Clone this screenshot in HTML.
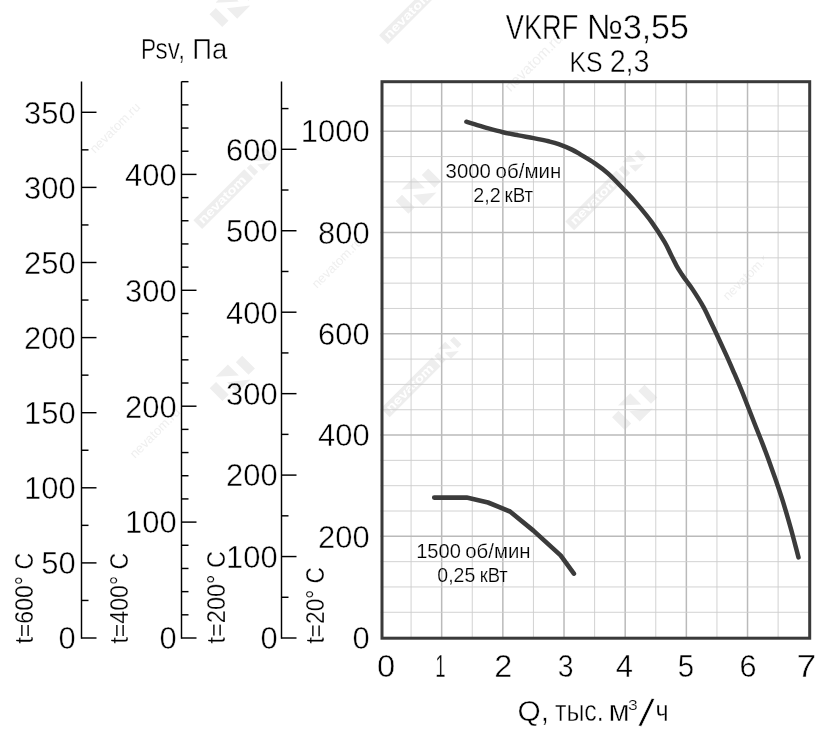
<!DOCTYPE html>
<html lang="ru"><head><meta charset="utf-8"><title>VKRF №3,55 KS 2,3</title>
<style>html,body{margin:0;padding:0;background:#fff}svg{display:block;will-change:transform}</style></head>
<body>
<svg width="838" height="738" viewBox="0 0 838 738">
<rect width="838" height="738" fill="#ffffff"/>
<clipPath id="cw"><rect x="382" y="0" width="382" height="738"/></clipPath>
<g transform="translate(223.2,199.2) rotate(-45)"><rect x="-36" y="-6.2" width="72" height="12.4" fill="#eeeeee"/><text x="-32" y="3.6" font-family='"Liberation Sans", sans-serif' font-weight="bold" font-size="12" textLength="62" lengthAdjust="spacingAndGlyphs" fill="#ffffff">nevatom</text><g transform="translate(52.5,0) scale(0.6)" fill="#eeeeee"><rect x="-23" y="-9" width="9" height="18"/><rect x="14" y="-9" width="9" height="18"/><path d="M-10.6,-13 L6.7,-13 L6.7,2.7 Z"/><path d="M-6.5,-1 L-6.5,13.7 L12,13.7 Z"/></g></g>
<g transform="translate(595.2,200.4) rotate(-45)"><rect x="-36" y="-6.2" width="72" height="12.4" fill="#eeeeee"/><text x="-32" y="3.6" font-family='"Liberation Sans", sans-serif' font-weight="bold" font-size="12" textLength="62" lengthAdjust="spacingAndGlyphs" fill="#ffffff">nevatom</text><g transform="translate(52.5,0) scale(0.6)" fill="#eeeeee"><rect x="-23" y="-9" width="9" height="18"/><rect x="14" y="-9" width="9" height="18"/><path d="M-10.6,-13 L6.7,-13 L6.7,2.7 Z"/><path d="M-6.5,-1 L-6.5,13.7 L12,13.7 Z"/></g></g>
<g clip-path="url(#cw)">
<g transform="translate(410.8,387.3) rotate(-45)"><rect x="-36" y="-6.2" width="72" height="12.4" fill="#eeeeee"/><text x="-32" y="3.6" font-family='"Liberation Sans", sans-serif' font-weight="bold" font-size="12" textLength="62" lengthAdjust="spacingAndGlyphs" fill="#ffffff">nevatom</text><g transform="translate(52.5,0) scale(0.6)" fill="#eeeeee"><rect x="-23" y="-9" width="9" height="18"/><rect x="14" y="-9" width="9" height="18"/><path d="M-10.6,-13 L6.7,-13 L6.7,2.7 Z"/><path d="M-6.5,-1 L-6.5,13.7 L12,13.7 Z"/></g></g>
</g>
<g transform="translate(408.9,14.3) rotate(-45)"><rect x="-36" y="-6.2" width="72" height="12.4" fill="#eeeeee"/><text x="-32" y="3.6" font-family='"Liberation Sans", sans-serif' font-weight="bold" font-size="12" textLength="62" lengthAdjust="spacingAndGlyphs" fill="#ffffff">nevatom</text><g transform="translate(52.5,0) scale(0.6)" fill="#eeeeee"><rect x="-23" y="-9" width="9" height="18"/><rect x="14" y="-9" width="9" height="18"/><path d="M-10.6,-13 L6.7,-13 L6.7,2.7 Z"/><path d="M-6.5,-1 L-6.5,13.7 L12,13.7 Z"/></g></g>
<g transform="translate(418.3,191.2) rotate(-45) scale(1.0)" fill="#eeeeee"><rect x="-23" y="-9" width="9" height="18"/><rect x="14" y="-9" width="9" height="18"/><path d="M-10.6,-13 L6.7,-13 L6.7,2.7 Z"/><path d="M-6.5,-1 L-6.5,13.7 L12,13.7 Z"/></g>
<g transform="translate(232.3,378.4) rotate(-45) scale(1.0)" fill="#eeeeee"><rect x="-23" y="-9" width="9" height="18"/><rect x="14" y="-9" width="9" height="18"/><path d="M-10.6,-13 L6.7,-13 L6.7,2.7 Z"/><path d="M-6.5,-1 L-6.5,13.7 L12,13.7 Z"/></g>
<g transform="translate(634.7,407.3) rotate(-45) scale(1.0)" fill="#eeeeee"><rect x="-23" y="-9" width="9" height="18"/><rect x="14" y="-9" width="9" height="18"/><path d="M-10.6,-13 L6.7,-13 L6.7,2.7 Z"/><path d="M-6.5,-1 L-6.5,13.7 L12,13.7 Z"/></g>
<g transform="translate(232.1,4.4) rotate(-45) scale(1.0)" fill="#eeeeee"><rect x="-23" y="-9" width="9" height="18"/><rect x="14" y="-9" width="9" height="18"/><path d="M-10.6,-13 L6.7,-13 L6.7,2.7 Z"/><path d="M-6.5,-1 L-6.5,13.7 L12,13.7 Z"/></g>
<text transform="translate(118.0,131.0) rotate(-45)" text-anchor="middle" font-family='"Liberation Sans", sans-serif' font-size="13" fill="#efefef">nevatom.ru</text>
<g clip-path="url(#cw)">
<text transform="translate(751.0,278.0) rotate(-45)" text-anchor="middle" font-family='"Liberation Sans", sans-serif' font-size="13" fill="#efefef">nevatom.ru</text>
</g>
<text transform="translate(537.0,66.0) rotate(-45)" text-anchor="middle" font-family='"Liberation Sans", sans-serif' font-size="15" fill="#efefef">nevatom.ru</text>
<text transform="translate(340.0,266.0) rotate(-45)" text-anchor="middle" font-family='"Liberation Sans", sans-serif' font-size="13" fill="#efefef">nevatom.ru</text>
<text transform="translate(158.0,436.0) rotate(-45)" text-anchor="middle" font-family='"Liberation Sans", sans-serif' font-size="13" fill="#efefef">nevatom.ru</text>
<g fill="none">
<line x1="411.09" y1="80.60" x2="411.09" y2="637.60" stroke="#cdcdcd" stroke-width="0.9"/>
<line x1="441.67" y1="80.60" x2="441.67" y2="637.60" stroke="#bababa" stroke-width="1.5"/>
<line x1="472.26" y1="80.60" x2="472.26" y2="637.60" stroke="#cdcdcd" stroke-width="0.9"/>
<line x1="502.84" y1="80.60" x2="502.84" y2="637.60" stroke="#bababa" stroke-width="1.5"/>
<line x1="533.43" y1="80.60" x2="533.43" y2="637.60" stroke="#cdcdcd" stroke-width="0.9"/>
<line x1="564.01" y1="80.60" x2="564.01" y2="637.60" stroke="#bababa" stroke-width="1.5"/>
<line x1="594.60" y1="80.60" x2="594.60" y2="637.60" stroke="#cdcdcd" stroke-width="0.9"/>
<line x1="625.19" y1="80.60" x2="625.19" y2="637.60" stroke="#bababa" stroke-width="1.5"/>
<line x1="655.77" y1="80.60" x2="655.77" y2="637.60" stroke="#cdcdcd" stroke-width="0.9"/>
<line x1="686.36" y1="80.60" x2="686.36" y2="637.60" stroke="#bababa" stroke-width="1.5"/>
<line x1="716.94" y1="80.60" x2="716.94" y2="637.60" stroke="#cdcdcd" stroke-width="0.9"/>
<line x1="747.53" y1="80.60" x2="747.53" y2="637.60" stroke="#bababa" stroke-width="1.5"/>
<line x1="778.11" y1="80.60" x2="778.11" y2="637.60" stroke="#cdcdcd" stroke-width="0.9"/>
<line x1="380.50" y1="612.28" x2="808.70" y2="612.28" stroke="#cdcdcd" stroke-width="0.9"/>
<line x1="380.50" y1="586.96" x2="808.70" y2="586.96" stroke="#cdcdcd" stroke-width="0.9"/>
<line x1="380.50" y1="561.65" x2="808.70" y2="561.65" stroke="#cdcdcd" stroke-width="0.9"/>
<line x1="380.50" y1="536.33" x2="808.70" y2="536.33" stroke="#bababa" stroke-width="1.5"/>
<line x1="380.50" y1="511.01" x2="808.70" y2="511.01" stroke="#cdcdcd" stroke-width="0.9"/>
<line x1="380.50" y1="485.69" x2="808.70" y2="485.69" stroke="#cdcdcd" stroke-width="0.9"/>
<line x1="380.50" y1="460.37" x2="808.70" y2="460.37" stroke="#cdcdcd" stroke-width="0.9"/>
<line x1="380.50" y1="435.05" x2="808.70" y2="435.05" stroke="#bababa" stroke-width="1.5"/>
<line x1="380.50" y1="409.74" x2="808.70" y2="409.74" stroke="#cdcdcd" stroke-width="0.9"/>
<line x1="380.50" y1="384.42" x2="808.70" y2="384.42" stroke="#cdcdcd" stroke-width="0.9"/>
<line x1="380.50" y1="359.10" x2="808.70" y2="359.10" stroke="#cdcdcd" stroke-width="0.9"/>
<line x1="380.50" y1="333.78" x2="808.70" y2="333.78" stroke="#bababa" stroke-width="1.5"/>
<line x1="380.50" y1="308.46" x2="808.70" y2="308.46" stroke="#cdcdcd" stroke-width="0.9"/>
<line x1="380.50" y1="283.15" x2="808.70" y2="283.15" stroke="#cdcdcd" stroke-width="0.9"/>
<line x1="380.50" y1="257.83" x2="808.70" y2="257.83" stroke="#cdcdcd" stroke-width="0.9"/>
<line x1="380.50" y1="232.51" x2="808.70" y2="232.51" stroke="#bababa" stroke-width="1.5"/>
<line x1="380.50" y1="207.19" x2="808.70" y2="207.19" stroke="#cdcdcd" stroke-width="0.9"/>
<line x1="380.50" y1="181.87" x2="808.70" y2="181.87" stroke="#cdcdcd" stroke-width="0.9"/>
<line x1="380.50" y1="156.55" x2="808.70" y2="156.55" stroke="#cdcdcd" stroke-width="0.9"/>
<line x1="380.50" y1="131.24" x2="808.70" y2="131.24" stroke="#bababa" stroke-width="1.5"/>
<line x1="380.50" y1="105.92" x2="808.70" y2="105.92" stroke="#cdcdcd" stroke-width="0.9"/>
</g>
<rect x="382.0" y="81.7" width="427.70" height="556.50" fill="none" stroke="#3a3a3a" stroke-width="3"/>
<path d="M466.4,121.7 C467.4,122.0 468.8,122.5 472.5,123.6 C476.2,124.7 483.3,127.0 488.4,128.4 C493.5,129.8 497.9,131.0 502.9,132.2 C507.9,133.4 513.4,134.4 518.5,135.4 C523.6,136.4 528.5,137.1 533.5,138.1 C538.5,139.1 544.4,140.3 548.6,141.3 C552.8,142.3 554.7,142.7 558.6,144.1 C562.5,145.5 568.3,147.9 571.9,149.6 C575.5,151.3 576.5,152.1 580.3,154.4 C584.1,156.7 589.9,160.0 594.5,163.2 C599.1,166.4 603.1,169.0 608.2,173.6 C613.3,178.2 620.2,185.6 625.3,190.9 C630.3,196.2 634.1,200.4 638.5,205.6 C642.9,210.8 647.2,215.9 651.5,221.9 C655.8,227.9 661.2,236.3 664.5,241.8 C667.8,247.3 669.0,250.8 671.0,254.8 C673.0,258.8 674.8,262.6 676.6,265.8 C678.4,269.1 680.2,271.8 681.8,274.3 C683.4,276.8 684.6,278.3 686.4,280.8 C688.2,283.3 689.9,285.2 692.6,289.4 C695.3,293.5 699.8,300.4 702.7,305.7 C705.7,310.9 707.9,316.0 710.3,320.9 C712.7,325.8 714.5,329.6 717.0,335.0 C719.5,340.4 722.6,347.1 725.5,353.4 C728.4,359.7 731.2,366.2 734.1,372.9 C737.0,379.6 739.1,384.4 742.8,393.5 C746.4,402.6 752.7,418.8 756.0,427.2 C759.3,435.6 760.3,438.0 762.5,443.6 C764.7,449.2 766.8,455.0 769.0,461.0 C771.2,467.0 773.4,473.1 775.6,479.4 C777.8,485.7 779.9,492.0 782.1,498.9 C784.3,505.8 786.6,513.7 788.6,520.6 C790.6,527.5 792.4,534.1 794.0,540.2 C795.6,546.3 797.8,554.5 798.5,557.4" fill="none" stroke="#3b3b3b" stroke-width="4.5" stroke-linecap="round" stroke-linejoin="round"/>
<path d="M434.2,497.6 L466.6,497.6 L488.0,502.5 L510.0,511.5 L533.4,530.6 L560.6,555.4 L573.9,573.6" fill="none" stroke="#3b3b3b" stroke-width="4.6" stroke-linecap="round" stroke-linejoin="round"/>
<g stroke="#000000" stroke-width="1.45" fill="none">
<line x1="81.5" y1="81.5" x2="81.5" y2="638.70"/>
<line x1="81.5" y1="638.00" x2="96.5" y2="638.00"/>
<line x1="81.5" y1="600.45" x2="88.5" y2="600.45"/>
<line x1="81.5" y1="562.90" x2="96.5" y2="562.90"/>
<line x1="81.5" y1="525.35" x2="88.5" y2="525.35"/>
<line x1="81.5" y1="487.80" x2="96.5" y2="487.80"/>
<line x1="81.5" y1="450.25" x2="88.5" y2="450.25"/>
<line x1="81.5" y1="412.70" x2="96.5" y2="412.70"/>
<line x1="81.5" y1="375.15" x2="88.5" y2="375.15"/>
<line x1="81.5" y1="337.60" x2="96.5" y2="337.60"/>
<line x1="81.5" y1="300.05" x2="88.5" y2="300.05"/>
<line x1="81.5" y1="262.50" x2="96.5" y2="262.50"/>
<line x1="81.5" y1="224.95" x2="88.5" y2="224.95"/>
<line x1="81.5" y1="187.40" x2="96.5" y2="187.40"/>
<line x1="81.5" y1="149.85" x2="88.5" y2="149.85"/>
<line x1="81.5" y1="112.30" x2="96.5" y2="112.30"/>
<line x1="181.5" y1="81.5" x2="181.5" y2="638.70"/>
<line x1="181.5" y1="638.00" x2="196.5" y2="638.00"/>
<line x1="181.5" y1="614.82" x2="188.5" y2="614.82"/>
<line x1="181.5" y1="591.64" x2="188.5" y2="591.64"/>
<line x1="181.5" y1="568.46" x2="188.5" y2="568.46"/>
<line x1="181.5" y1="545.28" x2="188.5" y2="545.28"/>
<line x1="181.5" y1="522.10" x2="196.5" y2="522.10"/>
<line x1="181.5" y1="498.92" x2="188.5" y2="498.92"/>
<line x1="181.5" y1="475.74" x2="188.5" y2="475.74"/>
<line x1="181.5" y1="452.56" x2="188.5" y2="452.56"/>
<line x1="181.5" y1="429.38" x2="188.5" y2="429.38"/>
<line x1="181.5" y1="406.20" x2="196.5" y2="406.20"/>
<line x1="181.5" y1="383.02" x2="188.5" y2="383.02"/>
<line x1="181.5" y1="359.84" x2="188.5" y2="359.84"/>
<line x1="181.5" y1="336.66" x2="188.5" y2="336.66"/>
<line x1="181.5" y1="313.48" x2="188.5" y2="313.48"/>
<line x1="181.5" y1="290.30" x2="196.5" y2="290.30"/>
<line x1="181.5" y1="267.12" x2="188.5" y2="267.12"/>
<line x1="181.5" y1="243.94" x2="188.5" y2="243.94"/>
<line x1="181.5" y1="220.76" x2="188.5" y2="220.76"/>
<line x1="181.5" y1="197.58" x2="188.5" y2="197.58"/>
<line x1="181.5" y1="174.40" x2="196.5" y2="174.40"/>
<line x1="181.5" y1="151.22" x2="188.5" y2="151.22"/>
<line x1="181.5" y1="128.04" x2="188.5" y2="128.04"/>
<line x1="181.5" y1="104.86" x2="188.5" y2="104.86"/>
<line x1="181.5" y1="81.68" x2="188.5" y2="81.68"/>
<line x1="281.5" y1="81.5" x2="281.5" y2="638.70"/>
<line x1="281.5" y1="638.00" x2="296.5" y2="638.00"/>
<line x1="281.5" y1="597.27" x2="288.5" y2="597.27"/>
<line x1="281.5" y1="556.55" x2="296.5" y2="556.55"/>
<line x1="281.5" y1="515.83" x2="288.5" y2="515.83"/>
<line x1="281.5" y1="475.10" x2="296.5" y2="475.10"/>
<line x1="281.5" y1="434.38" x2="288.5" y2="434.38"/>
<line x1="281.5" y1="393.65" x2="296.5" y2="393.65"/>
<line x1="281.5" y1="352.93" x2="288.5" y2="352.93"/>
<line x1="281.5" y1="312.20" x2="296.5" y2="312.20"/>
<line x1="281.5" y1="271.48" x2="288.5" y2="271.48"/>
<line x1="281.5" y1="230.75" x2="296.5" y2="230.75"/>
<line x1="281.5" y1="190.02" x2="288.5" y2="190.02"/>
<line x1="281.5" y1="149.30" x2="296.5" y2="149.30"/>
<line x1="281.5" y1="108.58" x2="288.5" y2="108.58"/>
</g>
<g font-family='"Liberation Sans", sans-serif' fill="#000000" stroke="#ffffff" stroke-width="0.45" paint-order="fill stroke">
<text x="58.41" y="649.38" font-size="31.39" textLength="17.19" lengthAdjust="spacingAndGlyphs">0</text>
<text x="41.22" y="574.27" font-size="31.39" textLength="34.39" lengthAdjust="spacingAndGlyphs">50</text>
<text x="24.03" y="499.18" font-size="31.39" textLength="51.58" lengthAdjust="spacingAndGlyphs">100</text>
<text x="24.03" y="424.07" font-size="31.39" textLength="51.58" lengthAdjust="spacingAndGlyphs">150</text>
<text x="24.03" y="348.98" font-size="31.39" textLength="51.58" lengthAdjust="spacingAndGlyphs">200</text>
<text x="24.03" y="273.88" font-size="31.39" textLength="51.58" lengthAdjust="spacingAndGlyphs">250</text>
<text x="24.03" y="198.77" font-size="31.39" textLength="51.58" lengthAdjust="spacingAndGlyphs">300</text>
<text x="24.03" y="123.67" font-size="31.39" textLength="51.58" lengthAdjust="spacingAndGlyphs">350</text>
<text x="159.41" y="649.38" font-size="31.39" textLength="17.19" lengthAdjust="spacingAndGlyphs">0</text>
<text x="125.03" y="533.48" font-size="31.39" textLength="51.58" lengthAdjust="spacingAndGlyphs">100</text>
<text x="125.03" y="417.57" font-size="31.39" textLength="51.58" lengthAdjust="spacingAndGlyphs">200</text>
<text x="125.03" y="301.68" font-size="31.39" textLength="51.58" lengthAdjust="spacingAndGlyphs">300</text>
<text x="125.03" y="185.77" font-size="31.39" textLength="51.58" lengthAdjust="spacingAndGlyphs">400</text>
<text x="260.41" y="649.38" font-size="31.39" textLength="17.19" lengthAdjust="spacingAndGlyphs">0</text>
<text x="226.03" y="567.92" font-size="31.39" textLength="51.58" lengthAdjust="spacingAndGlyphs">100</text>
<text x="226.03" y="486.48" font-size="31.39" textLength="51.58" lengthAdjust="spacingAndGlyphs">200</text>
<text x="226.03" y="405.02" font-size="31.39" textLength="51.58" lengthAdjust="spacingAndGlyphs">300</text>
<text x="226.03" y="323.57" font-size="31.39" textLength="51.58" lengthAdjust="spacingAndGlyphs">400</text>
<text x="226.03" y="242.12" font-size="31.39" textLength="51.58" lengthAdjust="spacingAndGlyphs">500</text>
<text x="226.03" y="160.68" font-size="31.39" textLength="51.58" lengthAdjust="spacingAndGlyphs">600</text>
<text x="352.41" y="649.17" font-size="31.39" textLength="17.19" lengthAdjust="spacingAndGlyphs">0</text>
<text x="318.03" y="547.81" font-size="31.39" textLength="51.58" lengthAdjust="spacingAndGlyphs">200</text>
<text x="318.03" y="446.45" font-size="31.39" textLength="51.58" lengthAdjust="spacingAndGlyphs">400</text>
<text x="318.03" y="345.09" font-size="31.39" textLength="51.58" lengthAdjust="spacingAndGlyphs">600</text>
<text x="318.03" y="243.74" font-size="31.39" textLength="51.58" lengthAdjust="spacingAndGlyphs">800</text>
<text x="300.85" y="142.38" font-size="31.39" textLength="68.77" lengthAdjust="spacingAndGlyphs">1000</text>
<text x="377.10" y="676.62" font-size="31.67" textLength="18.17" lengthAdjust="spacingAndGlyphs">0</text>
<text x="435.16" y="676.62" font-size="31.67" textLength="10.36" lengthAdjust="spacingAndGlyphs">1</text>
<text x="494.21" y="676.62" font-size="31.67" textLength="17.99" lengthAdjust="spacingAndGlyphs">2</text>
<text x="557.70" y="676.62" font-size="31.67" textLength="15.75" lengthAdjust="spacingAndGlyphs">3</text>
<text x="615.69" y="676.62" font-size="31.67" textLength="17.24" lengthAdjust="spacingAndGlyphs">4</text>
<text x="677.65" y="676.62" font-size="31.67" textLength="16.33" lengthAdjust="spacingAndGlyphs">5</text>
<text x="739.40" y="676.62" font-size="31.67" textLength="17.00" lengthAdjust="spacingAndGlyphs">6</text>
<text x="796.51" y="676.62" font-size="31.67" textLength="19.74" lengthAdjust="spacingAndGlyphs">7</text>
<text><tspan x="505.87" y="39.02" font-size="35.14" textLength="72.45" lengthAdjust="spacingAndGlyphs">VKRF</tspan> <tspan x="586.70" y="39.02" font-size="35.14" textLength="102.01" lengthAdjust="spacingAndGlyphs">№3,55</tspan></text>
<text><tspan x="569.44" y="71.92" font-size="30.23" textLength="33.10" lengthAdjust="spacingAndGlyphs">KS</tspan> <tspan x="609.64" y="72.02" font-size="30.66" textLength="39.93" lengthAdjust="spacingAndGlyphs">2,3</tspan></text>
<text><tspan x="141.02" y="58.83" font-size="28.64" textLength="15.08" lengthAdjust="spacingAndGlyphs">P</tspan><tspan x="155.61" y="58.83" font-size="28.64" textLength="29.51" lengthAdjust="spacingAndGlyphs">sv,</tspan> <tspan x="192.25" y="58.83" font-size="28.64" textLength="35.05" lengthAdjust="spacingAndGlyphs">Па</tspan></text>
<text><tspan x="517.47" y="720.83" font-size="28.93" textLength="31.53" lengthAdjust="spacingAndGlyphs">Q,</tspan> <tspan x="554.95" y="720.83" font-size="28.93" textLength="48.84" lengthAdjust="spacingAndGlyphs">тыс.</tspan> <tspan x="608.45" y="720.83" font-size="28.93" textLength="21.19" lengthAdjust="spacingAndGlyphs">м</tspan><tspan x="627.94" y="710.40" font-size="13.71" textLength="9.72" lengthAdjust="spacingAndGlyphs" stroke-width="0.2">3</tspan><tspan x="638.60" y="725.30" font-size="39.50" rotate="10.5">/</tspan><tspan x="655.38" y="720.83" font-size="28.93" textLength="13.19" lengthAdjust="spacingAndGlyphs">ч</tspan></text>
<text><tspan x="445.63" y="177.70" font-size="19.91" textLength="45.26" lengthAdjust="spacingAndGlyphs" stroke-width="0.2">3000</tspan> <tspan x="495.64" y="177.70" font-size="19.91" textLength="65.68" lengthAdjust="spacingAndGlyphs" stroke-width="0.2">об/мин</tspan></text>
<text><tspan x="473.31" y="201.70" font-size="19.48" textLength="27.48" lengthAdjust="spacingAndGlyphs" stroke-width="0.2">2,2</tspan> <tspan x="504.54" y="201.70" font-size="19.48" textLength="28.68" lengthAdjust="spacingAndGlyphs" stroke-width="0.2">кВт</tspan></text>
<text><tspan x="416.17" y="557.60" font-size="19.77" textLength="44.70" lengthAdjust="spacingAndGlyphs" stroke-width="0.2">1500</tspan> <tspan x="465.24" y="557.60" font-size="19.77" textLength="65.37" lengthAdjust="spacingAndGlyphs" stroke-width="0.2">об/мин</tspan></text>
<text><tspan x="437.34" y="581.70" font-size="19.48" textLength="37.97" lengthAdjust="spacingAndGlyphs" stroke-width="0.2">0,25</tspan> <tspan x="479.67" y="581.70" font-size="19.48" textLength="28.15" lengthAdjust="spacingAndGlyphs" stroke-width="0.2">кВт</tspan></text>
<text transform="translate(15.60,643.10) rotate(-90)" x="-0.47" y="17.62" font-size="25.61" textLength="90.76" lengthAdjust="spacingAndGlyphs" stroke-width="0.25">t=600° C</text>
<text transform="translate(110.40,643.10) rotate(-90)" x="-0.47" y="17.32" font-size="25.18" textLength="90.86" lengthAdjust="spacingAndGlyphs" stroke-width="0.25">t=400° C</text>
<text transform="translate(207.00,643.00) rotate(-90)" x="-0.48" y="17.62" font-size="25.61" textLength="92.48" lengthAdjust="spacingAndGlyphs" stroke-width="0.25">t=200° C</text>
<text transform="translate(306.60,643.00) rotate(-90)" x="-0.46" y="17.82" font-size="25.90" textLength="76.43" lengthAdjust="spacingAndGlyphs" stroke-width="0.25">t=20° C</text>
</g>
</svg>
</body></html>
